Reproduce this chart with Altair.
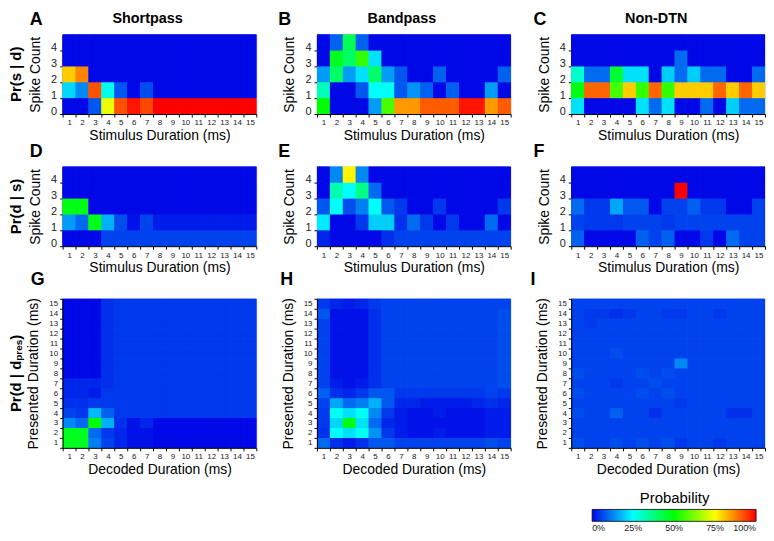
import altair as alt
import pandas as pd

FONT = "Liberation Sans"

DURATIONS = list(range(1, 16))
SPIKE_COUNTS = [0, 1, 2, 3, 4]
LEGEND_TICKS = [0, 0.25, 0.5, 0.75, 1]

COLOR_STOPS = [0, 0.25, 0.5, 0.75, 1]
COLOR_RANGE = ["#0008e8", "#00ffff", "#00ff00", "#ffff00", "#ff0000"]

# ---- Pr(s | d): one list per spike count (0..4), values for durations 1..15
A_SHORT = [
    [0, 0, 0.08, 0.73, 0.92, 0.98, 0.93, 1, 1, 1, 1, 1, 1, 1, 1],
    [0.21, 0.13, 0.92, 0.27, 0.08, 0, 0.07, 0, 0, 0, 0, 0, 0, 0, 0],
    [0.80, 0.87, 0, 0, 0, 0, 0, 0, 0, 0, 0, 0, 0, 0, 0],
    [0, 0, 0, 0, 0, 0, 0, 0, 0, 0, 0, 0, 0, 0, 0],
    [0, 0, 0, 0, 0, 0, 0, 0, 0, 0, 0, 0, 0, 0, 0],
]
B_BAND = [
    [0.50, 0, 0, 0, 0.15, 0.57, 0.85, 0.85, 0.91, 0.91, 0.91, 0.98, 0.98, 0.85, 0.91],
    [0.32, 0, 0, 0.08, 0.25, 0.26, 0.08, 0.14, 0.09, 0, 0.09, 0, 0, 0.15, 0],
    [0.15, 0.40, 0.15, 0.22, 0.40, 0.15, 0.08, 0, 0, 0.09, 0, 0, 0, 0, 0.09],
    [0, 0.47, 0.40, 0.55, 0.22, 0, 0, 0, 0, 0, 0, 0, 0, 0, 0],
    [0, 0.09, 0.42, 0.09, 0, 0, 0, 0, 0, 0, 0, 0, 0, 0, 0],
]
C_NON = [
    [0.22, 0, 0, 0, 0, 0.22, 0.10, 0.22, 0, 0, 0.10, 0, 0.20, 0.10, 0.10],
    [0.48, 0.90, 0.90, 0.57, 0.80, 0.55, 0.90, 0.55, 0.80, 0.80, 0.80, 0.90, 0.80, 0.90, 0.80],
    [0.30, 0.10, 0.10, 0.45, 0.22, 0.22, 0, 0.20, 0.10, 0.20, 0.10, 0.10, 0, 0, 0.10],
    [0, 0, 0, 0, 0, 0, 0, 0, 0.10, 0, 0, 0, 0, 0, 0],
    [0, 0, 0, 0, 0, 0, 0, 0, 0, 0, 0, 0, 0, 0, 0],
]

# ---- Pr(d | s): one list per spike count (0..4), values for durations 1..15
D_SHORT = [
    [0, 0, 0, 0.06, 0.06, 0.06, 0.06, 0.06, 0.06, 0.06, 0.06, 0.06, 0.06, 0.06, 0.06],
    [0.15, 0.10, 0.48, 0.17, 0.07, 0.01, 0.06, 0.02, 0.02, 0.02, 0.02, 0.02, 0.02, 0.02, 0.02],
    [0.48, 0.48, 0, 0, 0, 0, 0, 0, 0, 0, 0, 0, 0, 0, 0],
    [0, 0, 0, 0, 0, 0, 0, 0, 0, 0, 0, 0, 0, 0, 0],
    [0, 0, 0, 0, 0, 0, 0, 0, 0, 0, 0, 0, 0, 0, 0],
]
E_BAND = [
    [0.03, 0, 0, 0, 0, 0.04, 0.06, 0.06, 0.06, 0.06, 0.06, 0.06, 0.06, 0.06, 0.06],
    [0.23, 0, 0, 0.05, 0.20, 0.20, 0.04, 0.10, 0.05, 0, 0.05, 0, 0, 0.10, 0],
    [0.08, 0.25, 0.07, 0.12, 0.25, 0.08, 0.05, 0, 0, 0.05, 0, 0, 0, 0, 0.05],
    [0, 0.33, 0.25, 0.37, 0.10, 0, 0, 0, 0, 0, 0, 0, 0, 0, 0],
    [0, 0.13, 0.76, 0.13, 0, 0, 0, 0, 0, 0, 0, 0, 0, 0, 0],
]
F_NON = [
    [0.09, 0, 0, 0, 0, 0.09, 0.06, 0.09, 0, 0, 0.05, 0, 0.10, 0.06, 0.06],
    [0.06, 0.05, 0.05, 0.05, 0.06, 0.06, 0.06, 0.05, 0.06, 0.06, 0.06, 0.06, 0.06, 0.06, 0.06],
    [0.10, 0.05, 0.05, 0.16, 0.08, 0.08, 0, 0.06, 0.06, 0.09, 0.05, 0.05, 0, 0, 0.06],
    [0, 0, 0, 0, 0, 0, 0, 0, 1.0, 0, 0, 0, 0, 0, 0],
    [0, 0, 0, 0, 0, 0, 0, 0, 0, 0, 0, 0, 0, 0, 0],
]

# ---- Pr(d | d_pres): one list per presented duration (1..15), values for decoded 1..15
G_SHORT = [
    [0.47, 0.47, 0.12, 0.06, 0.03, 0.01, 0.01, 0, 0, 0, 0, 0, 0, 0, 0],
    [0.47, 0.47, 0.10, 0.05, 0.03, 0.01, 0.01, 0, 0, 0, 0, 0, 0, 0, 0],
    [0.13, 0.10, 0.50, 0.17, 0.04, 0.01, 0.03, 0, 0, 0, 0, 0, 0, 0, 0],
    [0.06, 0.05, 0.18, 0.09, 0.05, 0.05, 0.05, 0.05, 0.05, 0.05, 0.05, 0.05, 0.05, 0.05, 0.05],
    [0.04, 0.04, 0.05, 0.05, 0.05, 0.05, 0.05, 0.05, 0.05, 0.05, 0.05, 0.05, 0.05, 0.05, 0.05],
    [0.03, 0.03, 0.02, 0.05, 0.05, 0.05, 0.05, 0.05, 0.05, 0.05, 0.05, 0.05, 0.05, 0.05, 0.05],
    [0.03, 0.03, 0.03, 0.04, 0.05, 0.05, 0.05, 0.05, 0.05, 0.05, 0.05, 0.05, 0.05, 0.05, 0.05],
    [0, 0, 0, 0.04, 0.05, 0.05, 0.05, 0.05, 0.05, 0.05, 0.05, 0.05, 0.05, 0.05, 0.05],
    [0, 0, 0, 0.04, 0.05, 0.05, 0.05, 0.05, 0.05, 0.05, 0.05, 0.05, 0.05, 0.05, 0.05],
    [0, 0, 0, 0.04, 0.05, 0.05, 0.05, 0.05, 0.05, 0.05, 0.05, 0.05, 0.05, 0.05, 0.05],
    [0, 0, 0, 0.04, 0.05, 0.05, 0.05, 0.05, 0.05, 0.05, 0.05, 0.05, 0.05, 0.05, 0.05],
    [0, 0, 0, 0.04, 0.05, 0.05, 0.05, 0.05, 0.05, 0.05, 0.05, 0.05, 0.05, 0.05, 0.05],
    [0, 0, 0, 0.04, 0.05, 0.05, 0.05, 0.05, 0.05, 0.05, 0.05, 0.05, 0.05, 0.05, 0.05],
    [0, 0, 0, 0.04, 0.05, 0.05, 0.05, 0.05, 0.05, 0.05, 0.05, 0.05, 0.05, 0.05, 0.05],
    [0, 0, 0, 0.04, 0.05, 0.05, 0.05, 0.05, 0.05, 0.05, 0.05, 0.05, 0.05, 0.05, 0.05],
]
H_BAND = [
    [0.10, 0.04, 0.02, 0.04, 0.08, 0.08, 0.06, 0.06, 0.06, 0.06, 0.06, 0.06, 0.06, 0.07, 0.06],
    [0.04, 0.25, 0.22, 0.26, 0.14, 0.05, 0.02, 0.01, 0.01, 0.02, 0.01, 0.01, 0.01, 0.02, 0.02],
    [0.05, 0.21, 0.48, 0.22, 0.10, 0.03, 0.02, 0.01, 0.01, 0.01, 0.01, 0.01, 0.01, 0.02, 0.02],
    [0.05, 0.26, 0.22, 0.26, 0.13, 0.05, 0.02, 0.01, 0.01, 0.02, 0.01, 0.01, 0.01, 0.02, 0.02],
    [0.06, 0.16, 0.10, 0.12, 0.17, 0.08, 0.03, 0.03, 0.02, 0.02, 0.02, 0.02, 0.03, 0.04, 0.03],
    [0.09, 0.04, 0.03, 0.05, 0.08, 0.08, 0.05, 0.05, 0.05, 0.05, 0.05, 0.05, 0.05, 0.06, 0.05],
    [0.06, 0.02, 0.01, 0.02, 0.04, 0.06, 0.06, 0.06, 0.06, 0.06, 0.06, 0.06, 0.06, 0.06, 0.07],
    [0.06, 0.01, 0.01, 0.01, 0.04, 0.06, 0.06, 0.06, 0.06, 0.06, 0.06, 0.06, 0.06, 0.06, 0.07],
    [0.06, 0.01, 0.01, 0.01, 0.04, 0.06, 0.06, 0.06, 0.06, 0.06, 0.06, 0.06, 0.06, 0.06, 0.07],
    [0.06, 0.01, 0.01, 0.01, 0.04, 0.06, 0.06, 0.06, 0.06, 0.06, 0.06, 0.06, 0.06, 0.06, 0.07],
    [0.06, 0.01, 0.01, 0.01, 0.04, 0.06, 0.06, 0.06, 0.06, 0.06, 0.06, 0.06, 0.06, 0.06, 0.07],
    [0.06, 0.01, 0.01, 0.01, 0.04, 0.06, 0.06, 0.06, 0.06, 0.06, 0.06, 0.06, 0.06, 0.06, 0.07],
    [0.06, 0.01, 0.01, 0.01, 0.04, 0.06, 0.06, 0.06, 0.06, 0.06, 0.06, 0.06, 0.06, 0.06, 0.07],
    [0.08, 0.01, 0.01, 0.01, 0.04, 0.06, 0.06, 0.06, 0.06, 0.06, 0.06, 0.06, 0.06, 0.06, 0.07],
    [0.05, 0.03, 0.02, 0.03, 0.05, 0.06, 0.06, 0.06, 0.06, 0.06, 0.06, 0.06, 0.06, 0.06, 0.06],
]
I_NON = [
    [0.07, 0.06, 0.06, 0.07, 0.06, 0.07, 0.06, 0.07, 0.05, 0.06, 0.06, 0.05, 0.06, 0.06, 0.06],
    [0.06, 0.06, 0.06, 0.06, 0.06, 0.06, 0.06, 0.06, 0.06, 0.06, 0.06, 0.06, 0.06, 0.06, 0.06],
    [0.06, 0.06, 0.06, 0.06, 0.06, 0.06, 0.06, 0.06, 0.06, 0.06, 0.06, 0.06, 0.06, 0.06, 0.06],
    [0.07, 0.06, 0.06, 0.09, 0.06, 0.06, 0.04, 0.06, 0.06, 0.06, 0.06, 0.06, 0.04, 0.04, 0.06],
    [0.06, 0.06, 0.06, 0.06, 0.06, 0.06, 0.06, 0.06, 0.05, 0.06, 0.06, 0.06, 0.06, 0.06, 0.06],
    [0.07, 0.06, 0.06, 0.06, 0.06, 0.07, 0.06, 0.07, 0.06, 0.06, 0.06, 0.06, 0.06, 0.06, 0.06],
    [0.06, 0.06, 0.06, 0.05, 0.06, 0.06, 0.07, 0.06, 0.06, 0.06, 0.06, 0.06, 0.06, 0.06, 0.06],
    [0.07, 0.06, 0.06, 0.06, 0.06, 0.07, 0.06, 0.07, 0.06, 0.06, 0.06, 0.06, 0.06, 0.06, 0.06],
    [0.06, 0.06, 0.06, 0.06, 0.06, 0.06, 0.06, 0.06, 0.13, 0.06, 0.06, 0.06, 0.06, 0.06, 0.06],
    [0.06, 0.06, 0.06, 0.07, 0.06, 0.06, 0.06, 0.06, 0.06, 0.06, 0.06, 0.06, 0.06, 0.06, 0.06],
    [0.06, 0.06, 0.06, 0.06, 0.06, 0.06, 0.06, 0.06, 0.06, 0.06, 0.06, 0.06, 0.06, 0.06, 0.06],
    [0.06, 0.06, 0.06, 0.06, 0.06, 0.06, 0.06, 0.06, 0.06, 0.06, 0.06, 0.06, 0.06, 0.06, 0.06],
    [0.06, 0.05, 0.06, 0.06, 0.06, 0.06, 0.06, 0.06, 0.06, 0.06, 0.06, 0.06, 0.06, 0.06, 0.06],
    [0.06, 0.05, 0.05, 0.04, 0.05, 0.06, 0.06, 0.05, 0.05, 0.06, 0.06, 0.05, 0.06, 0.06, 0.06],
    [0.06, 0.06, 0.06, 0.06, 0.06, 0.06, 0.06, 0.06, 0.06, 0.06, 0.06, 0.06, 0.06, 0.06, 0.06],
]

# integer cell sizes: 13 px wide; 16 px (counts) and 10 px (durations) tall
W = 195
H_SMALL = 80
H_BIG = 150

color_scale = alt.Scale(domain=COLOR_STOPS, range=COLOR_RANGE, clamp=True, interpolate="rgb")
legend = alt.Legend(
    title="Probability", orient="none", legendX=533, legendY=460,
    direction="horizontal", gradientLength=165, gradientThickness=12,
    values=LEGEND_TICKS, format=".0%", labelFontSize=9, labelAlign="center",
    labelColor="#222", labelFont=FONT, titleFont=FONT, titleFontSize=15,
    titleFontWeight="normal", titleAnchor="middle", titleOrient="top",
    titlePadding=3, labelOffset=3, gradientStrokeColor="black",
    gradientStrokeWidth=0.8, padding=0,
)


def txt(text, x, y, size, weight="bold", angle=0, align="left", baseline="alphabetic"):
    return alt.Chart(pd.DataFrame({"t": [text]})).mark_text(
        font=FONT, fontSize=size, fontWeight=weight, angle=angle,
        align=align, baseline=baseline, color="black",
    ).encode(text="t:N", x=alt.value(x), y=alt.value(y))


def axis_common(**kw):
    base = dict(
        labelFont=FONT, titleFont=FONT, titleFontSize=14, titleFontWeight="normal",
        titleColor="black", labelColor="#222", tickSize=3, tickColor="black",
        domainColor="black", domainWidth=1, grid=False,
    )
    base.update(kw)
    return alt.Axis(**base)


def heat(df, x, y, y2=None):
    # the cells are drawn three times, stacked, so that anti-aliased seams
    # between neighbouring cells do not show as faint white grid lines
    enc = dict(x=x, y=y, color=alt.Color("p:Q", scale=color_scale, legend=legend))
    if y2 is not None:
        enc["y2"] = y2
    base = alt.Chart(df).mark_rect().encode(**enc)
    return [base, base, base]


def count_panel(mat, letter, letter_x, col_title=None, row_label=None):
    rows = []
    for s, vals in zip(SPIKE_COUNTS, mat):
        for d, p in zip(DURATIONS, vals):
            rows.append({"d": d, "s": s, "s2": s + 1, "p": p})
    df = pd.DataFrame(rows)
    rects = heat(
        df,
        alt.X("d:O", scale=alt.Scale(paddingInner=0, paddingOuter=0),
              axis=axis_common(title="Stimulus Duration (ms)", tickBand="extent",
                               labelAngle=0, labelFontSize=8, labelPadding=2,
                               titlePadding=2)),
        alt.Y("s:Q", scale=alt.Scale(domain=[0, 5], nice=False),
              axis=axis_common(title="Spike Count", values=SPIKE_COUNTS,
                               labelFontSize=11, labelBaseline="alphabetic",
                               labelPadding=3, titlePadding=8, format="d")),
        "s2:Q",
    )
    layers = rects + [txt(letter, letter_x, -24, 18, baseline="top")]
    if col_title:
        layers.append(txt(col_title, W / 2 - 12, -23, 14.5, align="center", baseline="top"))
    if row_label:
        layers.append(txt(row_label, -47, H_SMALL / 2, 15, angle=270, align="center",
                          baseline="middle"))
    return alt.layer(*layers).properties(width=W, height=H_SMALL)


def decode_panel(mat, letter, letter_x, row_label=False):
    rows = []
    for pres, vals in zip(DURATIONS, mat):
        for dec, p in zip(DURATIONS, vals):
            rows.append({"dec": dec, "pres": pres, "p": p})
    df = pd.DataFrame(rows)
    rects = heat(
        df,
        alt.X("dec:O", scale=alt.Scale(paddingInner=0, paddingOuter=0),
              axis=axis_common(title="Decoded Duration (ms)", tickBand="extent",
                               labelAngle=0, labelFontSize=8, labelPadding=2,
                               titlePadding=2)),
        alt.Y("pres:O", sort="descending",
              scale=alt.Scale(paddingInner=0, paddingOuter=0),
              axis=axis_common(title="Presented Duration (ms)", tickBand="extent",
                               labelFontSize=8, labelPadding=2, titlePadding=8)),
    )
    layers = rects + [txt(letter, letter_x, -28, 18, baseline="top")]
    if row_label:
        y0 = H_BIG / 2 + 39
        layers.append(txt("Pr(d | d", -47, y0, 15, angle=270, baseline="middle"))
        layers.append(txt("pres", -44, y0 - 51.7, 10, angle=270, baseline="middle"))
        layers.append(txt(")", -47, y0 - 51.7 - 21.1, 15, angle=270, baseline="middle"))
    return alt.layer(*layers).properties(width=W, height=H_BIG)


panels = [
    count_panel(A_SHORT, "A", -33, "Shortpass", "Pr(s | d)"),
    count_panel(B_BAND, "B", -39, "Bandpass"),
    count_panel(C_NON, "C", -38, "Non-DTN"),
    count_panel(D_SHORT, "D", -33, None, "Pr(d | s)"),
    count_panel(E_BAND, "E", -39),
    count_panel(F_NON, "F", -38),
    decode_panel(G_SHORT, "G", -32, row_label=True),
    decode_panel(H_BAND, "H", -37),
    decode_panel(I_NON, "I", -41),
]

chart = alt.concat(
    *panels, columns=3, spacing={"row": 53, "column": 61}, bounds="flush"
).properties(padding=0).configure_view(stroke=None).configure(font=FONT)

chart.save("out.html", embed_options={"renderer": "svg", "actions": False})
